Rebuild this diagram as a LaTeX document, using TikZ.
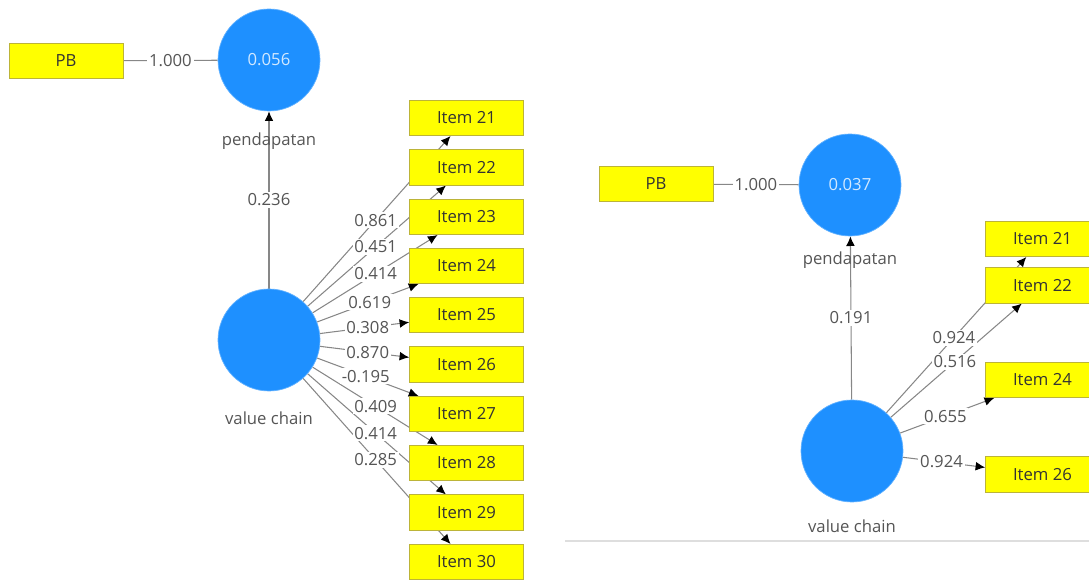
\documentclass[tikz,border=0pt]{standalone}
\usepackage{fontspec}
\setmainfont{Open Sans}
\usetikzlibrary{arrows.meta,backgrounds,calc}
\definecolor{plsblue}{RGB}{30,144,255}
\definecolor{plsyellow}{RGB}{255,255,0}
\definecolor{plstext}{RGB}{85,85,85}
\definecolor{plsline}{RGB}{135,135,135}
\tikzset{
  lv/.style={circle,fill=plsblue,draw=plsblue!70,inner sep=0pt,minimum size=2.04cm,text=white!80!plsblue},
  mv/.style={rectangle,fill=plsyellow,draw=yellow!70!black,line width=0.3pt,minimum width=2.28cm,minimum height=0.71cm,inner sep=0pt,text=black!80},
  lvname/.style={text=plstext,inner sep=0pt},
  coef/.style={fill=white,inner sep=1pt,text=plstext},
  link/.style={draw=plsline,line width=0.6pt},
  linkarr/.style={link,-{Latex[length=5.5pt,width=5pt,color=black]}},
  sep/.style={draw=black!13,line width=1.6pt}
}

\begin{document}
\begin{tikzpicture}[x=0.02cm,y=-0.02cm,every node/.style={font=\fontsize{9.5}{11}\selectfont}]
  \useasboundingbox (0,0) rectangle (1089,580);
  \clip (0,0) rectangle (1089,580);

  % left model
  \node[mv] (pbL) at (66,61) {PB};
  \node[lv] (pendL) at (269,60) {0.056};
  \node[lvname] (pendLname) at (269,141) {pendapatan};
  \node[lv] (vcL) at (269,340) {};
  \node[lvname] (vcLname) at (269,418) {value chain};
  \node[mv] (i21L) at (466.5,118) {Item 21};
  \node[mv] (i22L) at (466.5,167.5) {Item 22};
  \node[mv] (i23L) at (466.5,217) {Item 23};
  \node[mv] (i24L) at (466.5,266) {Item 24};
  \node[mv] (i25L) at (466.5,315) {Item 25};
  \node[mv] (i26L) at (466.5,364.5) {Item 26};
  \node[mv] (i27L) at (466.5,414) {Item 27};
  \node[mv] (i28L) at (466.5,463) {Item 28};
  \node[mv] (i29L) at (466.5,512.5) {Item 29};
  \node[mv] (i30L) at (466.5,562) {Item 30};

  % right model
  \node[mv] (pbR) at (656,184) {PB};
  \node[lv] (pendR) at (850,185) {0.037};
  \node[lvname] (pendRname) at (850,260) {pendapatan};
  \node[lv] (vcR) at (852,451) {};
  \node[lvname] (vcRname) at (852,526) {value chain};
  \node[mv] (i21R) at (1042.5,239) {Item 21};
  \node[mv] (i22R) at (1042.5,285.5) {Item 22};
  \node[mv] (i24R) at (1042.5,380) {Item 24};
  \node[mv] (i26R) at (1042.5,474.5) {Item 26};
  \coordinate (sepA) at (565,541);
  \coordinate (sepB) at (1089,541);

  \begin{scope}[on background layer]
    \draw[link] (pbL) -- (pendL) node[coef,midway] (wPBL) {1.000};
    \draw[linkarr] (vcL) -- (pendL) node[coef,midway] (wPendL) {0.236};
    \draw[linkarr] (vcL) -- (i21L);
    \draw[linkarr] (vcL) -- (i22L);
    \draw[linkarr] (vcL) -- (i23L);
    \draw[linkarr] (vcL) -- (i24L);
    \draw[linkarr] (vcL) -- (i25L);
    \draw[linkarr] (vcL) -- (i26L);
    \draw[linkarr] (vcL) -- (i27L);
    \draw[linkarr] (vcL) -- (i28L);
    \draw[linkarr] (vcL) -- (i29L);
    \draw[linkarr] (vcL) -- (i30L);
    \node[coef] (w21L) at ($(vcL)!.54!(i21L)$) {0.861};
    \node[coef] (w22L) at ($(vcL)!.54!(i22L)$) {0.451};
    \node[coef] (w23L) at ($(vcL)!.54!(i23L)$) {0.414};
    \node[coef] (w24L) at ($(vcL)!.51!(i24L)$) {0.619};
    \node[coef] (w25L) at ($(vcL)!.50!(i25L)$) {0.308};
    \node[coef] (w26L) at ($(vcL)!.50!(i26L)$) {0.870};
    \node[coef] (w27L) at ($(vcL)!.49!(i27L)$) {-0.195};
    \node[coef] (w28L) at ($(vcL)!.54!(i28L)$) {0.409};
    \node[coef] (w29L) at ($(vcL)!.54!(i29L)$) {0.414};
    \node[coef] (w30L) at ($(vcL)!.54!(i30L)$) {0.285};

    \draw[link] (pbR) -- (pendR) node[coef,midway] (wPBR) {1.000};
    \draw[linkarr] (vcR) -- (pendR) node[coef,midway] (wPendR) {0.191};
    \draw[linkarr] (vcR) -- (i21R);
    \draw[linkarr] (vcR) -- (i22R);
    \draw[linkarr] (vcR) -- (i24R);
    \draw[linkarr] (vcR) -- (i26R);
    \node[coef] (w21R) at ($(vcR)!.535!(i21R)$) {0.924};
    \node[coef] (w22R) at ($(vcR)!.54!(i22R)$) {0.516};
    \node[coef] (w24R) at ($(vcR)!.49!(i24R)$) {0.655};
    \node[coef] (w26R) at ($(vcR)!.47!(i26R)$) {0.924};
  \end{scope}

  \draw[sep] (sepA) -- (sepB);
\end{tikzpicture}
\end{document}
